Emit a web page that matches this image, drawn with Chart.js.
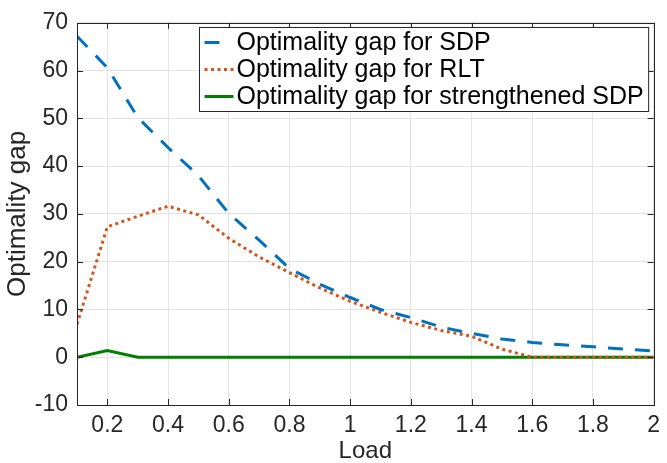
<!DOCTYPE html>
<html>
<head>
<meta charset="utf-8">
<script src="https://cdn.jsdelivr.net/npm/chart.js@4/dist/chart.umd.min.js"></script>
<style>
  html, body { margin: 0; padding: 0; background: #fff; }
  #wrap { width: 667px; height: 463px; }
</style>
</head>
<body>
<div id="wrap"><canvas id="chart" width="667" height="463"></canvas></div>
<script>
// values
const loads = [0.1, 0.2, 0.3, 0.4, 0.5, 0.6, 0.7, 0.8, 0.9, 1.0, 1.1, 1.2, 1.3, 1.4, 1.5, 1.6, 1.7, 1.8, 1.9, 2.0];
const gapSDP = [67.2, 60.6, 50.2, 43.9, 38.0, 30.1, 24.5, 18.6, 15.3, 12.5, 10.0, 8.3, 6.3, 5.0, 3.8, 3.1, 2.6, 2.2, 1.7, 1.3];
const gapRLT = [6.9, 27.3, 29.5, 31.6, 29.8, 24.9, 21.0, 17.7, 14.5, 11.7, 9.4, 7.3, 5.6, 4.4, 1.7, 0, 0, 0, 0, 0];
const gapStrong = [0, 1.4, 0, 0, 0, 0, 0, 0, 0, 0, 0, 0, 0, 0, 0, 0, 0, 0, 0, 0];
const seriesNames = ["Optimality gap for SDP", "Optimality gap for RLT", "Optimality gap for strengthened SDP"];
const xTicks = [0.2, 0.4, 0.6, 0.8, 1.0, 1.2, 1.4, 1.6, 1.8, 2.0];
const yTicks = [-10, 0, 10, 20, 30, 40, 50, 60, 70];

const FONT = "'Liberation Sans', Arial, Helvetica, sans-serif";
const INK = "#262626";

const pts = (ys) => ys.map((y, i) => ({ x: loads[i], y: y }));

// MATLAB-style box, inward ticks and legend inside the axes
const matlabBox = {
  id: "matlabBox",
  afterDraw(chart) {
    const ctx = chart.ctx;
    const a = chart.chartArea;
    const xs = chart.scales.x, ys = chart.scales.y;
    ctx.save();
    ctx.strokeStyle = INK;
    ctx.lineWidth = 1;
    ctx.beginPath();
    xs.ticks.forEach((t) => {
      const px = Math.round(xs.getPixelForValue(t.value)) + 0.5;
      ctx.moveTo(px, a.bottom); ctx.lineTo(px, a.bottom - 6);
      ctx.moveTo(px, a.top); ctx.lineTo(px, a.top + 6);
    });
    ys.ticks.forEach((t) => {
      const py = Math.round(ys.getPixelForValue(t.value)) + 0.5;
      ctx.moveTo(a.left, py); ctx.lineTo(a.left + 6, py);
      ctx.moveTo(a.right, py); ctx.lineTo(a.right - 6, py);
    });
    ctx.stroke();
    ctx.strokeRect(Math.round(a.left) + 0.5, Math.round(a.top) + 0.5, Math.round(a.right - a.left), Math.round(a.bottom - a.top));

    // legend
    ctx.font = "25px " + FONT;
    const dsets = chart.data.datasets;
    const textW = Math.max(...dsets.map((d) => ctx.measureText(d.label).width));
    const sample = 29, rowH = 27;
    const boxW = 5 + sample + 3 + textW + 5;
    const boxH = rowH * dsets.length + 3;
    const bx = Math.round(a.right - 5 - boxW) + 0.5;
    const by = Math.round(a.top + 4) + 0.5;
    ctx.fillStyle = "#fff";
    ctx.fillRect(bx, by, boxW, boxH);
    ctx.strokeStyle = INK;
    ctx.lineWidth = 1;
    ctx.strokeRect(bx, by, boxW, boxH);
    dsets.forEach((d, i) => {
      const cy = by + 15 + i * rowH;
      const dash = d.borderDash || [];
      ctx.save();
      ctx.strokeStyle = d.borderColor;
      ctx.lineWidth = d.borderWidth;
      ctx.lineCap = d.borderCapStyle || "butt";
      // a long dash shows as one single dash in the short sample
      ctx.setLineDash(dash.length && dash[0] > 10 ? [dash[0], sample] : dash);
      ctx.beginPath();
      ctx.moveTo(bx + 5, cy);
      ctx.lineTo(bx + 5 + sample, cy);
      ctx.stroke();
      ctx.restore();
      ctx.fillStyle = "#000";
      ctx.textBaseline = "middle";
      ctx.fillText(d.label, bx + 5 + sample + 3, cy + 1);
    });
    ctx.restore();
  },
};

new Chart(document.getElementById("chart"), {
  type: "line",
  data: {
    datasets: [
      { label: seriesNames[0], data: pts(gapSDP), borderColor: "#0072BD", borderWidth: 3, borderDash: [15, 12], pointRadius: 0, fill: false },
      { label: seriesNames[1], data: pts(gapRLT), borderColor: "#D95319", borderWidth: 3, borderDash: [3, 3.5], pointRadius: 0, fill: false },
      { label: seriesNames[2], data: pts(gapStrong), borderColor: "#008000", borderWidth: 3, pointRadius: 0, fill: false },
    ],
  },
  options: {
    responsive: false,
    animation: false,
    layout: { padding: { top: 21, right: 9, left: 0, bottom: 0 } },
    plugins: { legend: { display: false }, tooltip: { enabled: false } },
    scales: {
      x: {
        type: "linear",
        min: 0.1,
        max: 2,
        afterBuildTicks: (s) => { s.ticks = xTicks.map((v) => ({ value: v })); },
        afterFit: (s) => { s.height = 58; },
        grid: { color: "#e3e3e3", drawTicks: false },
        border: { display: false },
        ticks: {
          padding: 7,
          color: INK,
          font: { family: FONT, size: 23 },
          maxRotation: 0,
          callback: (v) => String(Math.round(v * 10) / 10),
        },
        title: { display: true, text: "Load", color: INK, font: { family: FONT, size: 24, lineHeight: 1 }, padding: { top: 0, bottom: 0 } },
      },
      y: {
        min: -10,
        max: 70,
        afterBuildTicks: (s) => { s.ticks = yTicks.map((v) => ({ value: v })); },
        afterFit: (s) => { s.width = 77; },
        grid: { color: "#e3e3e3", drawTicks: false },
        border: { display: false },
        ticks: { padding: 9, color: INK, font: { family: FONT, size: 23 } },
        title: { display: true, text: "Optimality gap", color: INK, font: { family: FONT, size: 26, lineHeight: 1 }, padding: { top: 5, bottom: 0 } },
      },
    },
  },
  plugins: [matlabBox],
});
</script>
</body>
</html>
